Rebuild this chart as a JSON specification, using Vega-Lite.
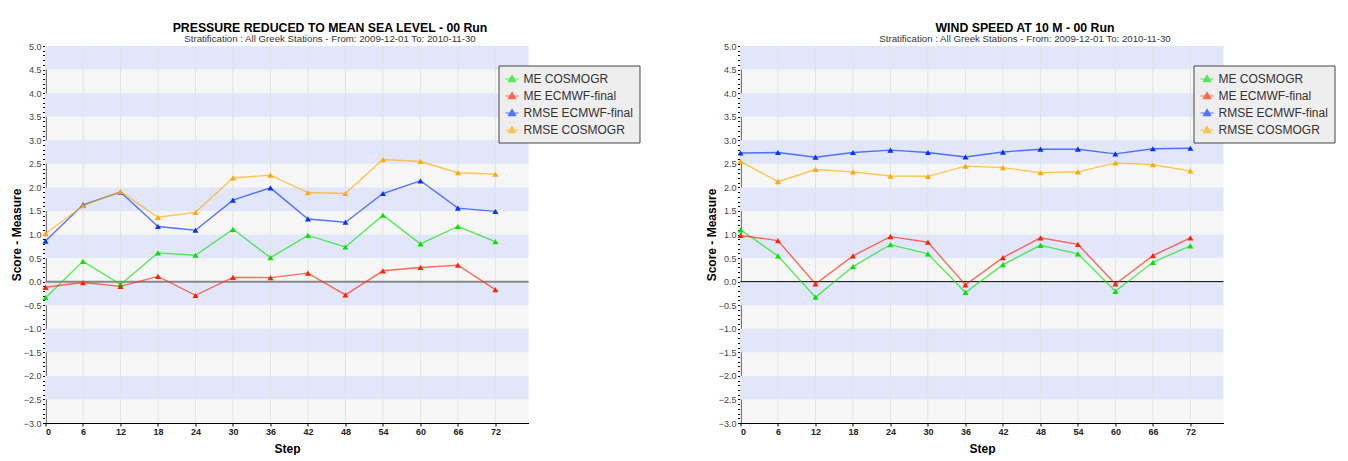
{
  "$schema": "https://vega.github.io/schema/vega-lite/v6.json",
  "autosize": {"type": "pad"},
  "padding": {"left": 9.5, "top": 21, "right": 0, "bottom": 0},
  "background": "#ffffff",
  "spacing": 212,
  "bounds": "flush",
  "datasets": {
    "bands": [
      {"lo": 4.5, "hi": 5.0}, {"lo": 3.5, "hi": 4.0}, {"lo": 2.5, "hi": 3.0}, {"lo": 1.5, "hi": 2.0},
      {"lo": 0.5, "hi": 1.0}, {"lo": -0.5, "hi": 0.0}, {"lo": -1.5, "hi": -1.0}, {"lo": -2.5, "hi": -2.0}
    ],
    "pmsl": [
      {"step": 0, "series": "ME COSMOGR", "value": -0.34},
      {"step": 6, "series": "ME COSMOGR", "value": 0.43},
      {"step": 12, "series": "ME COSMOGR", "value": -0.06},
      {"step": 18, "series": "ME COSMOGR", "value": 0.61},
      {"step": 24, "series": "ME COSMOGR", "value": 0.56},
      {"step": 30, "series": "ME COSMOGR", "value": 1.11},
      {"step": 36, "series": "ME COSMOGR", "value": 0.51},
      {"step": 42, "series": "ME COSMOGR", "value": 0.98},
      {"step": 48, "series": "ME COSMOGR", "value": 0.735},
      {"step": 54, "series": "ME COSMOGR", "value": 1.41},
      {"step": 60, "series": "ME COSMOGR", "value": 0.80},
      {"step": 66, "series": "ME COSMOGR", "value": 1.17},
      {"step": 72, "series": "ME COSMOGR", "value": 0.85},
      {"step": 0, "series": "ME ECMWF-final", "value": -0.12},
      {"step": 6, "series": "ME ECMWF-final", "value": -0.02},
      {"step": 12, "series": "ME ECMWF-final", "value": -0.10},
      {"step": 18, "series": "ME ECMWF-final", "value": 0.11},
      {"step": 24, "series": "ME ECMWF-final", "value": -0.29},
      {"step": 30, "series": "ME ECMWF-final", "value": 0.09},
      {"step": 36, "series": "ME ECMWF-final", "value": 0.085},
      {"step": 42, "series": "ME ECMWF-final", "value": 0.18},
      {"step": 48, "series": "ME ECMWF-final", "value": -0.28},
      {"step": 54, "series": "ME ECMWF-final", "value": 0.23},
      {"step": 60, "series": "ME ECMWF-final", "value": 0.30},
      {"step": 66, "series": "ME ECMWF-final", "value": 0.35},
      {"step": 72, "series": "ME ECMWF-final", "value": -0.17},
      {"step": 0, "series": "RMSE ECMWF-final", "value": 0.86},
      {"step": 6, "series": "RMSE ECMWF-final", "value": 1.63},
      {"step": 12, "series": "RMSE ECMWF-final", "value": 1.90},
      {"step": 18, "series": "RMSE ECMWF-final", "value": 1.17},
      {"step": 24, "series": "RMSE ECMWF-final", "value": 1.09},
      {"step": 30, "series": "RMSE ECMWF-final", "value": 1.73},
      {"step": 36, "series": "RMSE ECMWF-final", "value": 1.99},
      {"step": 42, "series": "RMSE ECMWF-final", "value": 1.33},
      {"step": 48, "series": "RMSE ECMWF-final", "value": 1.26},
      {"step": 54, "series": "RMSE ECMWF-final", "value": 1.87},
      {"step": 60, "series": "RMSE ECMWF-final", "value": 2.14},
      {"step": 66, "series": "RMSE ECMWF-final", "value": 1.56},
      {"step": 72, "series": "RMSE ECMWF-final", "value": 1.49},
      {"step": 0, "series": "RMSE COSMOGR", "value": 1.02},
      {"step": 6, "series": "RMSE COSMOGR", "value": 1.61},
      {"step": 12, "series": "RMSE COSMOGR", "value": 1.91},
      {"step": 18, "series": "RMSE COSMOGR", "value": 1.365},
      {"step": 24, "series": "RMSE COSMOGR", "value": 1.47},
      {"step": 30, "series": "RMSE COSMOGR", "value": 2.20},
      {"step": 36, "series": "RMSE COSMOGR", "value": 2.26},
      {"step": 42, "series": "RMSE COSMOGR", "value": 1.89},
      {"step": 48, "series": "RMSE COSMOGR", "value": 1.87},
      {"step": 54, "series": "RMSE COSMOGR", "value": 2.59},
      {"step": 60, "series": "RMSE COSMOGR", "value": 2.55},
      {"step": 66, "series": "RMSE COSMOGR", "value": 2.31},
      {"step": 72, "series": "RMSE COSMOGR", "value": 2.28}
    ],
    "wind": [
      {"step": 0, "series": "ME COSMOGR", "value": 1.10},
      {"step": 6, "series": "ME COSMOGR", "value": 0.545},
      {"step": 12, "series": "ME COSMOGR", "value": -0.33},
      {"step": 18, "series": "ME COSMOGR", "value": 0.32},
      {"step": 24, "series": "ME COSMOGR", "value": 0.785},
      {"step": 30, "series": "ME COSMOGR", "value": 0.59},
      {"step": 36, "series": "ME COSMOGR", "value": -0.23},
      {"step": 42, "series": "ME COSMOGR", "value": 0.36},
      {"step": 48, "series": "ME COSMOGR", "value": 0.77},
      {"step": 54, "series": "ME COSMOGR", "value": 0.59},
      {"step": 60, "series": "ME COSMOGR", "value": -0.205},
      {"step": 66, "series": "ME COSMOGR", "value": 0.41},
      {"step": 72, "series": "ME COSMOGR", "value": 0.76},
      {"step": 0, "series": "ME ECMWF-final", "value": 0.98},
      {"step": 6, "series": "ME ECMWF-final", "value": 0.87},
      {"step": 12, "series": "ME ECMWF-final", "value": -0.05},
      {"step": 18, "series": "ME ECMWF-final", "value": 0.545},
      {"step": 24, "series": "ME ECMWF-final", "value": 0.955},
      {"step": 30, "series": "ME ECMWF-final", "value": 0.835},
      {"step": 36, "series": "ME ECMWF-final", "value": -0.07},
      {"step": 42, "series": "ME ECMWF-final", "value": 0.51},
      {"step": 48, "series": "ME ECMWF-final", "value": 0.93},
      {"step": 54, "series": "ME ECMWF-final", "value": 0.79},
      {"step": 60, "series": "ME ECMWF-final", "value": -0.05},
      {"step": 66, "series": "ME ECMWF-final", "value": 0.55},
      {"step": 72, "series": "ME ECMWF-final", "value": 0.93},
      {"step": 0, "series": "RMSE ECMWF-final", "value": 2.73},
      {"step": 6, "series": "RMSE ECMWF-final", "value": 2.74},
      {"step": 12, "series": "RMSE ECMWF-final", "value": 2.64},
      {"step": 18, "series": "RMSE ECMWF-final", "value": 2.74},
      {"step": 24, "series": "RMSE ECMWF-final", "value": 2.79},
      {"step": 30, "series": "RMSE ECMWF-final", "value": 2.74},
      {"step": 36, "series": "RMSE ECMWF-final", "value": 2.645},
      {"step": 42, "series": "RMSE ECMWF-final", "value": 2.75},
      {"step": 48, "series": "RMSE ECMWF-final", "value": 2.81},
      {"step": 54, "series": "RMSE ECMWF-final", "value": 2.81},
      {"step": 60, "series": "RMSE ECMWF-final", "value": 2.71},
      {"step": 66, "series": "RMSE ECMWF-final", "value": 2.82},
      {"step": 72, "series": "RMSE ECMWF-final", "value": 2.83},
      {"step": 0, "series": "RMSE COSMOGR", "value": 2.55},
      {"step": 6, "series": "RMSE COSMOGR", "value": 2.12},
      {"step": 12, "series": "RMSE COSMOGR", "value": 2.38},
      {"step": 18, "series": "RMSE COSMOGR", "value": 2.33},
      {"step": 24, "series": "RMSE COSMOGR", "value": 2.24},
      {"step": 30, "series": "RMSE COSMOGR", "value": 2.235},
      {"step": 36, "series": "RMSE COSMOGR", "value": 2.45},
      {"step": 42, "series": "RMSE COSMOGR", "value": 2.42},
      {"step": 48, "series": "RMSE COSMOGR", "value": 2.31},
      {"step": 54, "series": "RMSE COSMOGR", "value": 2.33},
      {"step": 60, "series": "RMSE COSMOGR", "value": 2.52},
      {"step": 66, "series": "RMSE COSMOGR", "value": 2.48},
      {"step": 72, "series": "RMSE COSMOGR", "value": 2.35}
    ]
  },
  "resolve": {
    "scale": {"color": "independent", "x": "independent", "y": "independent"},
    "legend": {"color": "independent"}
  },
  "hconcat": [
    {
      "width": 483,
      "height": 377,
      "title": {
        "text": "PRESSURE REDUCED TO MEAN SEA LEVEL - 00 Run",
        "subtitle": "Stratification : All Greek Stations - From: 2009-12-01 To: 2010-11-30",
        "anchor": "middle", "frame": "group", "dx": 43, "offset": -1.5,
        "fontSize": 12.3, "fontWeight": "bold", "color": "#000000",
        "subtitleFontSize": 9.7, "subtitleColor": "#333333", "subtitlePadding": 0
      },
      "layer": [
        {
          "data": {"name": "bands"},
          "mark": {"type": "rect", "fill": "#e1e6fa"},
          "encoding": {
            "y": {
              "field": "lo", "type": "quantitative",
              "scale": {"domain": [-3, 5], "nice": false, "zero": false},
              "axis": {
                "title": "Score - Measure",
                "tickCount": 200,
                "values": [-3.0,-2.9,-2.8,-2.7,-2.6,-2.5,-2.4,-2.3,-2.2,-2.1,-2.0,-1.9,-1.8,-1.7,-1.6,-1.5,-1.4,-1.3,-1.2,-1.1,-1.0,-0.9,-0.8,-0.7,-0.6,-0.5,-0.4,-0.3,-0.2,-0.1,0.0,0.1,0.2,0.3,0.4,0.5,0.6,0.7,0.8,0.9,1.0,1.1,1.2,1.3,1.4,1.5,1.6,1.7,1.8,1.9,2.0,2.1,2.2,2.3,2.4,2.5,2.6,2.7,2.8,2.9,3.0,3.1,3.2,3.3,3.4,3.5,3.6,3.7,3.8,3.9,4.0,4.1,4.2,4.3,4.4,4.5,4.6,4.7,4.8,4.9,5.0],
                "labelExpr": "abs(datum.value*2 - round(datum.value*2)) < 0.001 ? format(datum.value, '.1f') : ''",
                "labelOverlap": false
              }
            },
            "y2": {"field": "hi"}
          }
        },
        {
          "data": {"name": "pmsl"},
          "transform": [{"aggregate": [{"op": "count", "as": "n"}], "groupby": ["step"]}],
          "mark": {"type": "rule", "color": "#e3e3e3", "strokeWidth": 1},
          "encoding": {
            "x": {
              "field": "step", "type": "quantitative",
              "scale": {"domain": [0, 77.3], "nice": false, "zero": false},
              "axis": {"title": "Step", "tickCount": 50, "values": [0,6,12,18,24,30,36,42,48,54,60,66,72]}
            }
          }
        },
        {
          "data": {"values": [{}]},
          "mark": {"type": "rule", "color": "#888888", "strokeWidth": 2},
          "encoding": {"y": {"datum": 0}}
        },
        {
          "data": {"name": "pmsl"},
          "mark": {"type": "line", "strokeWidth": 1.4, "opacity": 0.65},
          "encoding": {
            "x": {"field": "step", "type": "quantitative"},
            "y": {"field": "value", "type": "quantitative"},
            "color": {
              "field": "series", "type": "nominal",
              "scale": {"domain": ["ME COSMOGR", "ME ECMWF-final", "RMSE ECMWF-final", "RMSE COSMOGR"], "range": ["#00e600", "#ff2200", "#0033ff", "#ffaa00"]},
              "legend": {
                "title": null, "orient": "none", "legendX": 453, "legendY": 19.5,
                "fillColor": "#eeeeee", "strokeColor": "#444444", "padding": 6,
                "labelFontSize": 12, "labelColor": "#333333", "labelOffset": 4, "rowPadding": 3,
                "symbolType": "M-1,0H1M0,-0.55L0.55,0.4L-0.55,0.4Z", "symbolSize": 169, "symbolStrokeWidth": 1.2,
                "encode": {"symbols": {"update": {
                  "stroke": {"signal": "datum.value === 'ME COSMOGR' ? '#00e600' : datum.value === 'ME ECMWF-final' ? '#ff2200' : datum.value === 'RMSE ECMWF-final' ? '#0033ff' : '#ffaa00'"},
                  "fill": {"signal": "datum.value === 'ME COSMOGR' ? '#00e600' : datum.value === 'ME ECMWF-final' ? '#ff2200' : datum.value === 'RMSE ECMWF-final' ? '#0033ff' : '#ffaa00'"},
                  "opacity": {"value": 1}
                }}}
              }
            }
          }
        },
        {
          "data": {"name": "pmsl"},
          "mark": {"type": "point", "shape": "triangle-up", "filled": true, "size": 36, "opacity": 1},
          "encoding": {
            "x": {"field": "step", "type": "quantitative"},
            "y": {"field": "value", "type": "quantitative"},
            "color": {"field": "series", "type": "nominal"}
          }
        }
      ]
    },
    {
      "width": 483,
      "height": 377,
      "title": {
        "text": "WIND SPEED AT 10 M - 00 Run",
        "subtitle": "Stratification : All Greek Stations - From: 2009-12-01 To: 2010-11-30",
        "anchor": "middle", "frame": "group", "dx": 43, "offset": -1.5,
        "fontSize": 12.3, "fontWeight": "bold", "color": "#000000",
        "subtitleFontSize": 9.7, "subtitleColor": "#333333", "subtitlePadding": 0
      },
      "layer": [
        {
          "data": {"name": "bands"},
          "mark": {"type": "rect", "fill": "#e1e6fa"},
          "encoding": {
            "y": {
              "field": "lo", "type": "quantitative",
              "scale": {"domain": [-3, 5], "nice": false, "zero": false},
              "axis": {
                "title": "Score - Measure",
                "tickCount": 200,
                "values": [-3.0,-2.9,-2.8,-2.7,-2.6,-2.5,-2.4,-2.3,-2.2,-2.1,-2.0,-1.9,-1.8,-1.7,-1.6,-1.5,-1.4,-1.3,-1.2,-1.1,-1.0,-0.9,-0.8,-0.7,-0.6,-0.5,-0.4,-0.3,-0.2,-0.1,0.0,0.1,0.2,0.3,0.4,0.5,0.6,0.7,0.8,0.9,1.0,1.1,1.2,1.3,1.4,1.5,1.6,1.7,1.8,1.9,2.0,2.1,2.2,2.3,2.4,2.5,2.6,2.7,2.8,2.9,3.0,3.1,3.2,3.3,3.4,3.5,3.6,3.7,3.8,3.9,4.0,4.1,4.2,4.3,4.4,4.5,4.6,4.7,4.8,4.9,5.0],
                "labelExpr": "abs(datum.value*2 - round(datum.value*2)) < 0.001 ? format(datum.value, '.1f') : ''",
                "labelOverlap": false
              }
            },
            "y2": {"field": "hi"}
          }
        },
        {
          "data": {"name": "wind"},
          "transform": [{"aggregate": [{"op": "count", "as": "n"}], "groupby": ["step"]}],
          "mark": {"type": "rule", "color": "#e3e3e3", "strokeWidth": 1},
          "encoding": {
            "x": {
              "field": "step", "type": "quantitative",
              "scale": {"domain": [0, 77.3], "nice": false, "zero": false},
              "axis": {"title": "Step", "tickCount": 50, "values": [0,6,12,18,24,30,36,42,48,54,60,66,72]}
            }
          }
        },
        {
          "data": {"values": [{}]},
          "mark": {"type": "rule", "color": "#000000", "strokeWidth": 1},
          "encoding": {"y": {"datum": 0}}
        },
        {
          "data": {"name": "wind"},
          "mark": {"type": "line", "strokeWidth": 1.4, "opacity": 0.65},
          "encoding": {
            "x": {"field": "step", "type": "quantitative"},
            "y": {"field": "value", "type": "quantitative"},
            "color": {
              "field": "series", "type": "nominal",
              "scale": {"domain": ["ME COSMOGR", "ME ECMWF-final", "RMSE ECMWF-final", "RMSE COSMOGR"], "range": ["#00e600", "#ff2200", "#0033ff", "#ffaa00"]},
              "legend": {
                "title": null, "orient": "none", "legendX": 453, "legendY": 19.5,
                "fillColor": "#eeeeee", "strokeColor": "#444444", "padding": 6,
                "labelFontSize": 12, "labelColor": "#333333", "labelOffset": 4, "rowPadding": 3,
                "symbolType": "M-1,0H1M0,-0.55L0.55,0.4L-0.55,0.4Z", "symbolSize": 169, "symbolStrokeWidth": 1.2,
                "encode": {"symbols": {"update": {
                  "stroke": {"signal": "datum.value === 'ME COSMOGR' ? '#00e600' : datum.value === 'ME ECMWF-final' ? '#ff2200' : datum.value === 'RMSE ECMWF-final' ? '#0033ff' : '#ffaa00'"},
                  "fill": {"signal": "datum.value === 'ME COSMOGR' ? '#00e600' : datum.value === 'ME ECMWF-final' ? '#ff2200' : datum.value === 'RMSE ECMWF-final' ? '#0033ff' : '#ffaa00'"},
                  "opacity": {"value": 1}
                }}}
              }
            }
          }
        },
        {
          "data": {"name": "wind"},
          "mark": {"type": "point", "shape": "triangle-up", "filled": true, "size": 36, "opacity": 1},
          "encoding": {
            "x": {"field": "step", "type": "quantitative"},
            "y": {"field": "value", "type": "quantitative"},
            "color": {"field": "series", "type": "nominal"}
          }
        }
      ]
    }
  ],
  "config": {
    "font": "Liberation Sans",
    "view": {"fill": "#f6f6f6", "stroke": null},
    "axis": {
      "zindex": 1, "grid": false,
      "domainColor": "#000000", "domainWidth": 1,
      "tickColor": "#000000", "tickSize": 3, "tickWidth": 1,
      "labelFontSize": 9, "labelColor": "#444444", "labelPadding": 1.5,
      "titleFontSize": 12, "titleFontWeight": "bold", "titleColor": "#000000"
    },
    "axisY": {"titlePadding": 0},
    "axisX": {"labelFontWeight": "bold", "labelColor": "#222222", "labelPadding": 1.5, "titlePadding": 7}
  }
}
